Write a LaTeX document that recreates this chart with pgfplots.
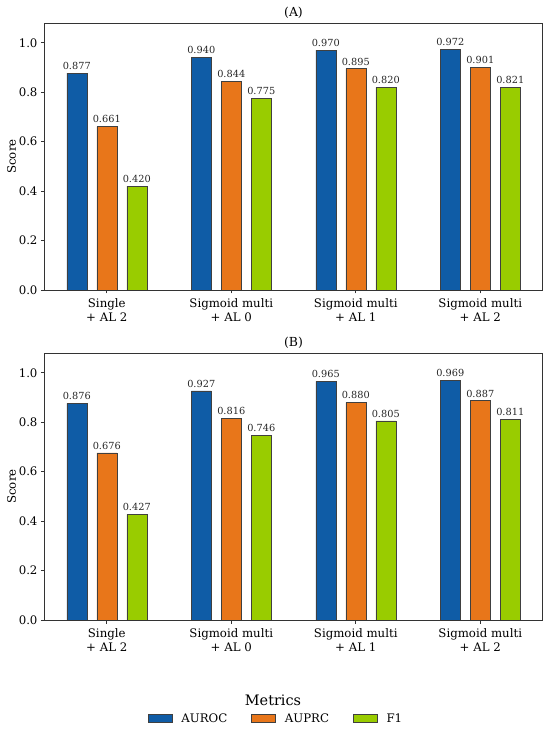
\documentclass[border=0pt]{standalone}
\usepackage{pgfplots}
\pgfplotsset{compat=1.18}
\usepackage{fontspec}
\setmainfont{DejaVu Serif}
\definecolor{cB}{HTML}{0F5CA6}
\definecolor{cO}{HTML}{E8761A}
\definecolor{cG}{HTML}{99CC00}
\pgfplotsset{
 myaxis/.style={
  scale only axis, width=498bp, height=267bp,
  xmin=-0.5, xmax=3.5, ymin=0, ymax=1.08,
  ybar=10bp, bar width=20bp,
  legend image code/.code={\draw[##1] (0bp,-4bp) rectangle (24bp,4bp);},
  xtick={0,1,2,3},
  xticklabels={{Single\\+ AL 2},{Sigmoid multi\\+ AL 0},{Sigmoid multi\\+ AL 1},{Sigmoid multi\\+ AL 2}},
  xticklabel style={align=center, font=\fontsize{11.8}{13.2}\selectfont, yshift=-2bp},
  ytick={0,0.2,0.4,0.6,0.8,1.0},
  yticklabel style={font=\fontsize{11.8}{13}\selectfont, /pgf/number format/.cd, fixed, fixed zerofill, precision=1, assume math mode=true},
  tick align=outside, xtick pos=bottom, ytick pos=left, major tick length=3.5bp,
  every tick/.style={black!80, line width=0.6pt},
  axis line style={black!80, line width=0.6pt},
  ylabel={Score},
  ylabel style={font=\fontsize{11.8}{13}\selectfont, at={(axis description cs:-0.066,0.5)}, anchor=center},
  nodes near coords={\pgfmathprintnumber[fixed,fixed zerofill,precision=3,assume math mode=true]{\pgfplotspointmeta}},
  every node near coord/.append style={font=\fontsize{9.8}{10}\selectfont, black!85},
  title style={font=\fontsize{12.5}{14}\selectfont, at={(0.5,1)}, anchor=base, yshift=0.5bp},
 },
 mybar/.style={fill=#1, draw=black!75, line width=0.5pt},
}
\begin{document}
\begin{tikzpicture}
\useasboundingbox (0,0) rectangle (550bp,729bp);
\begin{axis}[myaxis, at={(44.5bp,439bp)}, anchor=south west, title={(A)}]
\addplot[mybar=cB] coordinates {(0,0.877) (1,0.940) (2,0.970) (3,0.972)};
\addplot[mybar=cO] coordinates {(0,0.661) (1,0.844) (2,0.895) (3,0.901)};
\addplot[mybar=cG] coordinates {(0,0.420) (1,0.775) (2,0.820) (3,0.821)};
\end{axis}
\begin{axis}[myaxis, at={(44.5bp,109bp)}, anchor=south west, title={(B)},
  legend columns=3,
  legend style={at={(0.465,-0.369)}, anchor=center, draw=none, fill=none,
    font=\fontsize{11.8}{13}\selectfont,
    /tikz/every odd column/.append style={column sep=7bp},
    /tikz/every even column/.append style={column sep=22bp}},
  ]
\addplot[mybar=cB] coordinates {(0,0.876) (1,0.927) (2,0.965) (3,0.969)};
\addlegendentry{AUROC}
\addplot[mybar=cO] coordinates {(0,0.676) (1,0.816) (2,0.880) (3,0.887)};
\addlegendentry{AUPRC}
\addplot[mybar=cG] coordinates {(0,0.427) (1,0.746) (2,0.805) (3,0.811)};
\addlegendentry{F1}
\end{axis}
\node[font=\fontsize{14.5}{16}\selectfont] at (273bp,29bp) {Metrics};
\end{tikzpicture}
\end{document}
